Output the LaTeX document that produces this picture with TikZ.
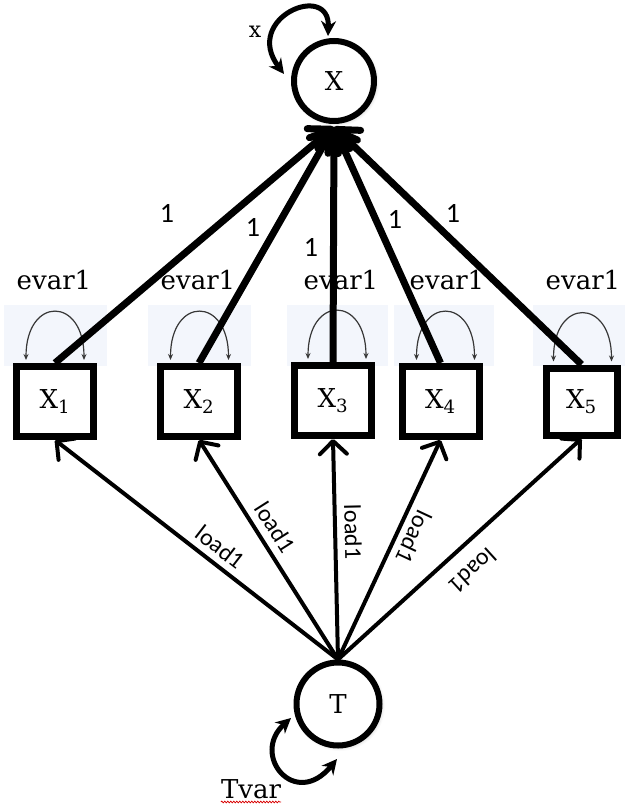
\documentclass[tikz,border=0pt]{standalone}
\usepackage{fontspec}
\setmainfont{DejaVu Serif}
\newfontfamily\labelfont{Carlito}
\usetikzlibrary{arrows.meta,shadows.blur,decorations.pathmorphing}

\definecolor{loopbg}{RGB}{243,246,252}
\definecolor{loopline}{RGB}{55,55,55}

\begin{document}
\begin{tikzpicture}[x=1pt,y=-1pt,
  latent/.style={circle, draw, line width=6pt, fill=white, minimum size=80pt,
    inner sep=0pt, font=\fontsize{26}{30}\selectfont,
    blur shadow={shadow xshift=1.5pt, shadow yshift=-1.5pt, shadow blur radius=4pt, shadow opacity=30}},
  manifest/.style={rectangle, draw, line width=7pt, fill=white, minimum width=77pt,
    minimum height=70pt, inner sep=0pt, font=\fontsize{26}{30}\selectfont},
  fixedpath/.style={line width=7pt, -{Straight Barb[round,length=18pt,width=32pt]}},
  loadpath/.style={line width=4pt, -{Straight Barb[round,length=13pt,width=27pt]}},
  varloop/.style={line width=5pt,
    {Stealth[length=15pt,width=15pt]}-{Stealth[length=15pt,width=15pt]}},
  errloop/.style={line width=1.2pt, draw=loopline,
    {Stealth[length=6pt,width=5pt]}-{Stealth[length=6pt,width=5pt]}},
  onelabel/.style={font=\labelfont\fontsize{28}{30}\selectfont, inner sep=0pt},
  loadlabel/.style={font=\labelfont\fontsize{24}{28}\selectfont, inner sep=0pt},
  varlabel/.style={font=\fontsize{26}{30}\selectfont, inner sep=0pt},
]
\useasboundingbox (0,0) rectangle (625,805);

% shaded panels behind the error-variance loops
\fill[loopbg] (4,305) rectangle (107,366);
\fill[loopbg] (148,305) rectangle (251,366);
\fill[loopbg] (287,305) rectangle (388,366);
\fill[loopbg] (394,305) rectangle (494,366);
\fill[loopbg] (533,305) rectangle (625,366);

% latent variables
\node[latent] (X) at (334,81) {X};
\node[latent, minimum size=83pt] (T) at (338,704) {T};

% indicators
\node[manifest] (X1) at (55,401.5) {X\textsubscript{1}};
\node[manifest] (X2) at (199,401.5) {X\textsubscript{2}};
\node[manifest] (X3) at (333,400.5) {X\textsubscript{3}};
\node[manifest] (X4) at (440.5,401.5) {X\textsubscript{4}};
\node[manifest, minimum width=71pt, minimum height=67pt] (X5) at (581.5,401.5) {X\textsubscript{5}};

% error variances
\foreach \b/\dx in {X1/0, X2/0.5, X3/4, X4/5, X5/1}{
  \draw[errloop] ([xshift={\dx-29}, yshift=3pt]\b.north)
    .. controls +(0,-64) and +(0,-64) .. ([xshift={\dx+29}, yshift=3pt]\b.north);
}
\node[varlabel, anchor=base] (e1) at (54,289) {evar1};
\node[varlabel, anchor=base] (e2) at (198,289) {evar1};
\node[varlabel, anchor=base] (e3) at (341,289) {evar1};
\node[varlabel, anchor=base] (e4) at (447,289) {evar1};
\node[varlabel, anchor=base] (e5) at (583,289) {evar1};

% fixed loadings of the indicators on X
\foreach \b in {X1,X2,X3,X4,X5}{
  \draw[fixedpath] (\b.north) -- ([yshift=-3pt]X.south);
}
\node[onelabel] (f1) at (167,213) {1};
\node[onelabel] (f2) at (253,227) {1};
\node[onelabel] (f3) at (311,247) {1};
\node[onelabel] (f4) at (395,219) {1};
\node[onelabel] (f5) at (453,213) {1};

% equal loadings of the indicators on T
\foreach \b in {X1,X2,X3,X4,X5}{
  \draw[loadpath] (T.north) -- (\b.south);
}
\node[loadlabel, rotate=-37.7] (l1) at (220,547) {load1};
\node[loadlabel, rotate=-57.6] (l2) at (275,527) {load1};
\node[loadlabel, rotate=-88.7] (l3) at (353,532) {load1};
\node[loadlabel, rotate=-115] (l4) at (414,537) {load1};
\node[loadlabel, rotate=-137.7] (l5) at (473,571) {load1};

% variance of X
\draw[varloop] ([shift={(-6,-45)}]X.center)
  .. controls +(2,-55) and +(-42,-56) .. ([shift={(-50,-7)}]X.center);
\node[varlabel, font=\fontsize{22}{26}\selectfont] (xv) at (255,32) {x};

% variance of T
\draw[varloop] ([shift={(-47,14)}]T.center)
  .. controls +(-41,37) and +(-42,51) .. ([shift={(-1,55)}]T.center);
\node[varlabel, anchor=base] (tv) at (251,798) {Tvar};
\draw[red!85!black, line width=0.7pt, decorate,
  decoration={snake, amplitude=0.9pt, segment length=3pt}]
  ([yshift=-4pt]tv.base west) -- ([yshift=-4pt]tv.base east);
\end{tikzpicture}
\end{document}
